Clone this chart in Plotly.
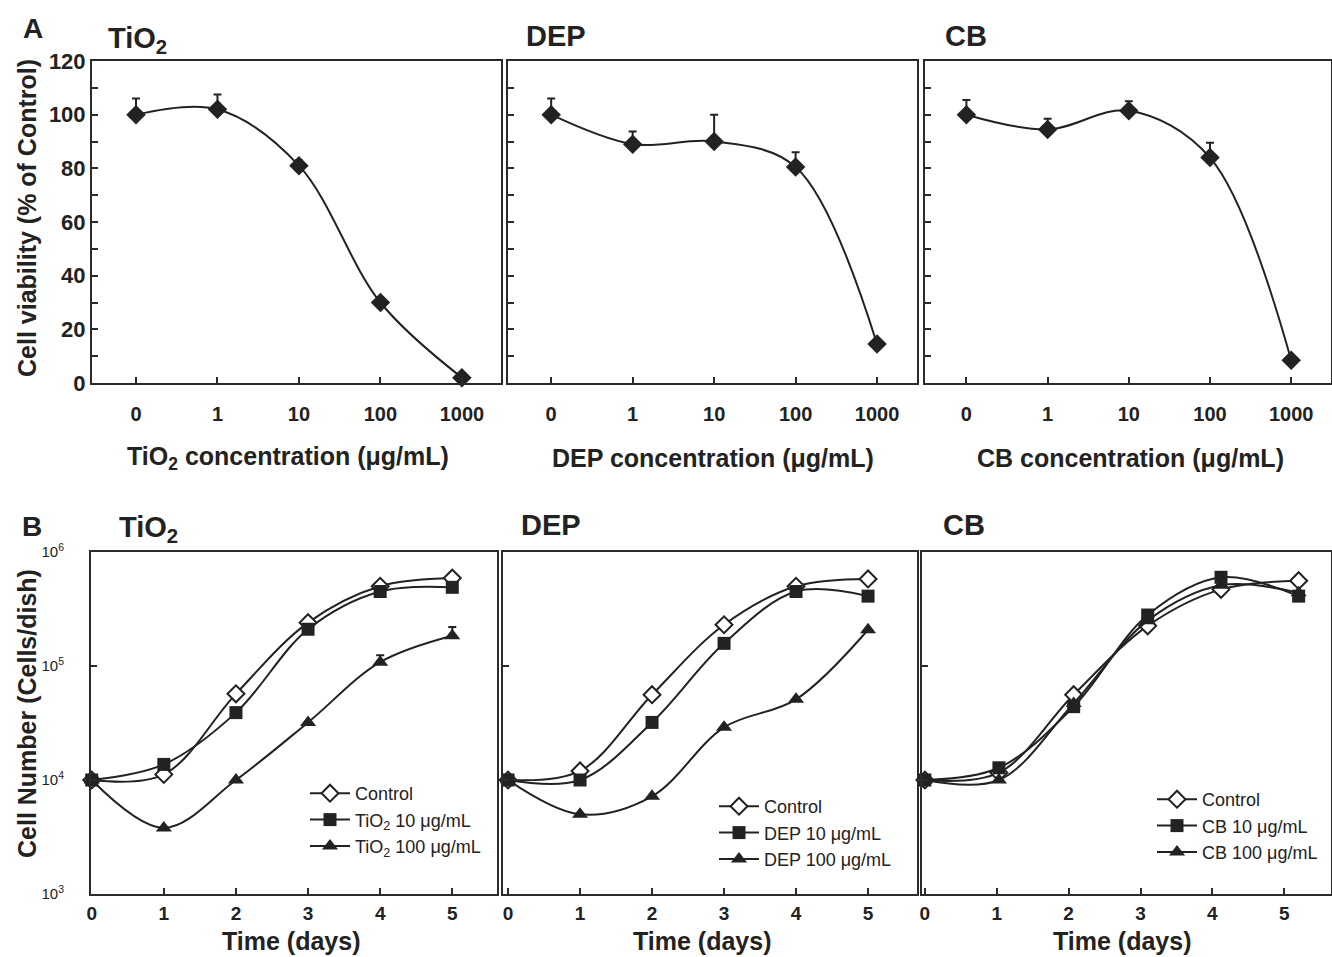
import plotly.graph_objects as go

# ---------------- data ----------------
conc_labels = ['0', '1', '10', '100', '1000']
conc_pos = [0, 1, 2, 3, 4]

tio2_viab = [100, 102, 81, 30, 2]
tio2_err = [6, 5.5, 2, 1, 0]
dep_viab = [100, 89, 90, 80.5, 14.5]
dep_err = [6, 4.7, 10, 5.5, 0]
cb_viab = [100, 94.5, 101.5, 84, 8.5]
cb_err = [5.5, 4, 3.5, 5.5, 0]

days = [0, 1, 2, 3, 4, 5]
cb_days = [0, 1.03, 2.07, 3.1, 4.12, 5.2]

tio2_ctrl = [1.0e4, 1.12e4, 5.7e4, 2.4e5, 5.0e5, 5.9e5]
tio2_10 = [1.0e4, 1.37e4, 3.9e4, 2.1e5, 4.5e5, 4.9e5]
tio2_100 = [1.0e4, 3.8e3, 1.0e4, 3.2e4, 1.08e5, 1.84e5]
tio2_100_err = [0, 0, 0, 0, 1.6e4, 3.6e4]

dep_ctrl = [1.0e4, 1.2e4, 5.6e4, 2.3e5, 5.0e5, 5.8e5]
dep_10 = [1.0e4, 1.0e4, 3.2e4, 1.58e5, 4.5e5, 4.1e5]
dep_100 = [1.0e4, 5.0e3, 7.2e3, 2.9e4, 5.1e4, 2.08e5]

cb_ctrl = [1.0e4, 1.16e4, 5.6e4, 2.25e5, 4.7e5, 5.6e5]
cb_10 = [1.0e4, 1.28e4, 4.4e4, 2.8e5, 6.0e5, 4.1e5]
cb_100 = [1.0e4, 1.0e4, 4.7e4, 2.5e5, 5.1e5, 4.4e5]

y_ticks_a = [0, 20, 40, 60, 80, 100, 120]
y_ticks_b = [1e3, 1e4, 1e5, 1e6]
y_ticktext_b = ['10<sup>3</sup>', '10<sup>4</sup>', '10<sup>5</sup>', '10<sup>6</sup>']

# ---------------- style ----------------
W, H = 1332, 957
INK = '#222222'
FONT = 'Liberation Sans, Arial, sans-serif'


def dx(a, b):
    return [a / W, b / W]


def dy(top, bottom):
    return [1 - bottom / H, 1 - top / H]


fig = go.Figure()

# ---------------- panel A ----------------
a_sets = [
    (tio2_viab, tio2_err, 'x', 'y'),
    (dep_viab, dep_err, 'x2', 'y2'),
    (cb_viab, cb_err, 'x3', 'y3'),
]
for vals, errs, xa, ya in a_sets:
    fig.add_trace(go.Scatter(
        x=conc_pos, y=vals, xaxis=xa, yaxis=ya, mode='lines+markers',
        line=dict(color=INK, width=2, shape='spline', smoothing=1.0),
        marker=dict(symbol='diamond', size=15, color=INK),
        error_y=dict(type='data', array=errs, arrayminus=[0] * len(errs),
                     symmetric=False, color=INK, thickness=2, width=4),
        showlegend=False, cliponaxis=False))

# ---------------- panel B ----------------
b_sets = [
    (days, tio2_ctrl, tio2_10, tio2_100, tio2_100_err, 'x4', 'y4', 'legend',
     'TiO<sub>2</sub> 10 μg/mL', 'TiO<sub>2</sub> 100 μg/mL'),
    (days, dep_ctrl, dep_10, dep_100, [0] * 6, 'x5', 'y5', 'legend2',
     'DEP 10 μg/mL', 'DEP 100 μg/mL'),
    (cb_days, cb_ctrl, cb_10, cb_100, [0] * 6, 'x6', 'y6', 'legend3',
     'CB 10 μg/mL', 'CB 100 μg/mL'),
]
for xs, ctrl, c10, c100, err100, xa, ya, lg, n10, n100 in b_sets:
    fig.add_trace(go.Scatter(
        x=xs, y=ctrl, xaxis=xa, yaxis=ya, mode='lines+markers', name='Control',
        line=dict(color=INK, width=2, shape='spline', smoothing=1.0),
        marker=dict(symbol='diamond', size=13, color='white',
                    line=dict(color=INK, width=2)),
        legend=lg, cliponaxis=False))
    fig.add_trace(go.Scatter(
        x=xs, y=c10, xaxis=xa, yaxis=ya, mode='lines+markers', name=n10,
        line=dict(color=INK, width=2, shape='spline', smoothing=1.0),
        marker=dict(symbol='square', size=13, color=INK),
        legend=lg, cliponaxis=False))
    fig.add_trace(go.Scatter(
        x=xs, y=c100, xaxis=xa, yaxis=ya, mode='lines+markers', name=n100,
        line=dict(color=INK, width=2, shape='spline', smoothing=1.0),
        marker=dict(symbol='triangle-up', size=14, color=INK),
        error_y=dict(type='data', array=err100, arrayminus=[0] * 6,
                     symmetric=False, color=INK, thickness=2, width=4),
        legend=lg, cliponaxis=False))

# ---------------- axes ----------------
axis_common = dict(showline=True, linecolor='#2b2b2b', linewidth=2, mirror=True,
                   showgrid=False, zeroline=False, ticks='inside', ticklen=6,
                   tickwidth=2, tickcolor='#2b2b2b', automargin=False)

a_xdom = [dx(92, 501), dx(508, 917), dx(925, 1331)]
a_xrng = [[-0.54, 4.48], [-0.53, 4.49], [-0.51, 4.49]]
a_ydom = dy(61, 383)
for i in range(3):
    s = '' if i == 0 else str(i + 1)
    fig.update_layout(**{
        'xaxis' + s: dict(axis_common, domain=a_xdom[i], range=a_xrng[i],
                          anchor='y' + s, tickvals=conc_pos, ticktext=conc_labels,
                          ticklabelstandoff=12,
                          tickfont=dict(family=FONT, size=20, color=INK, weight='bold')),
        'yaxis' + s: dict(axis_common, domain=a_ydom, range=[0, 120],
                          anchor='x' + s, tickvals=y_ticks_a,
                          showticklabels=(i == 0),
                          minor=dict(dtick=10, tick0=0, ticks='inside', ticklen=6,
                                     tickwidth=2, tickcolor='#2b2b2b', showgrid=False),
                          ticklabelstandoff=0,
                          tickfont=dict(family=FONT, size=22, color=INK, weight='bold')),
    })

b_xdom = [dx(91, 497), dx(503, 917), dx(922, 1331)]
b_xrng = [[-0.01, 5.62], [-0.07, 5.68], [-0.04, 5.65]]
b_ydom = dy(552, 894)
for i in range(3):
    s = str(i + 4)
    fig.update_layout(**{
        'xaxis' + s: dict(axis_common, domain=b_xdom[i], range=b_xrng[i],
                          anchor='y' + s, tickvals=days,
                          ticktext=[str(d) for d in days],
                          ticklabelstandoff=1,
                          tickfont=dict(family=FONT, size=19, color=INK, weight='bold')),
        'yaxis' + s: dict(axis_common, domain=b_ydom, type='log', range=[3, 6],
                          anchor='x' + s, tickvals=y_ticks_b,
                          ticktext=y_ticktext_b, showticklabels=(i == 0),
                          ticklabelstandoff=22,
                          tickfont=dict(family=FONT, size=15, color=INK)),
    })

# ---------------- legends ----------------
leg_common = dict(bgcolor='rgba(0,0,0,0)', borderwidth=0, xanchor='left',
                  yanchor='top', tracegroupgap=0, itemwidth=40,
                  font=dict(family=FONT, size=18, color=INK))
fig.update_layout(
    legend=dict(leg_common, x=305 / W, y=1 - 775 / H),
    legend2=dict(leg_common, x=714 / W, y=1 - 788 / H),
    legend3=dict(leg_common, x=1152 / W, y=1 - 781 / H),
)

# ---------------- annotations ----------------
def ann(text, x, y, size, angle=0, weight='bold'):
    fig.add_annotation(text=text, x=x / W, y=1 - y / H, xref='paper', yref='paper',
                       showarrow=False, textangle=angle, xanchor='center',
                       yanchor='middle',
                       font=dict(family=FONT, size=size, color=INK, weight=weight))

ann('A', 33, 29, 28)
ann('B', 32, 526, 28)
ann('TiO<sub>2</sub>', 137, 40, 29)
ann('DEP', 556, 36, 29)
ann('CB', 966, 36, 29)
ann('TiO<sub>2</sub>', 148, 529, 29)
ann('DEP', 551, 525, 29)
ann('CB', 964, 525, 29)

ann('Cell viability (% of Control)', 27, 218, 25, angle=-90)
ann('Cell Number (Cells/dish)', 27, 714, 25, angle=-90)

ann('TiO<sub>2</sub> concentration (μg/mL)', 288, 458, 25)
ann('DEP concentration (μg/mL)', 713, 458, 25)
ann('CB concentration (μg/mL)', 1130, 458, 25)

ann('Time (days)', 291, 941, 25)
ann('Time (days)', 702, 941, 25)
ann('Time (days)', 1122, 941, 25)

fig.update_layout(width=W, height=H, margin=dict(l=0, r=0, t=0, b=0),
                  paper_bgcolor='white', plot_bgcolor='white',
                  font=dict(family=FONT, color=INK))

fig.write_html('out.html', config={'displayModeBar': False},
               post_script="document.body.style.margin='0';document.body.style.overflow='hidden';")
